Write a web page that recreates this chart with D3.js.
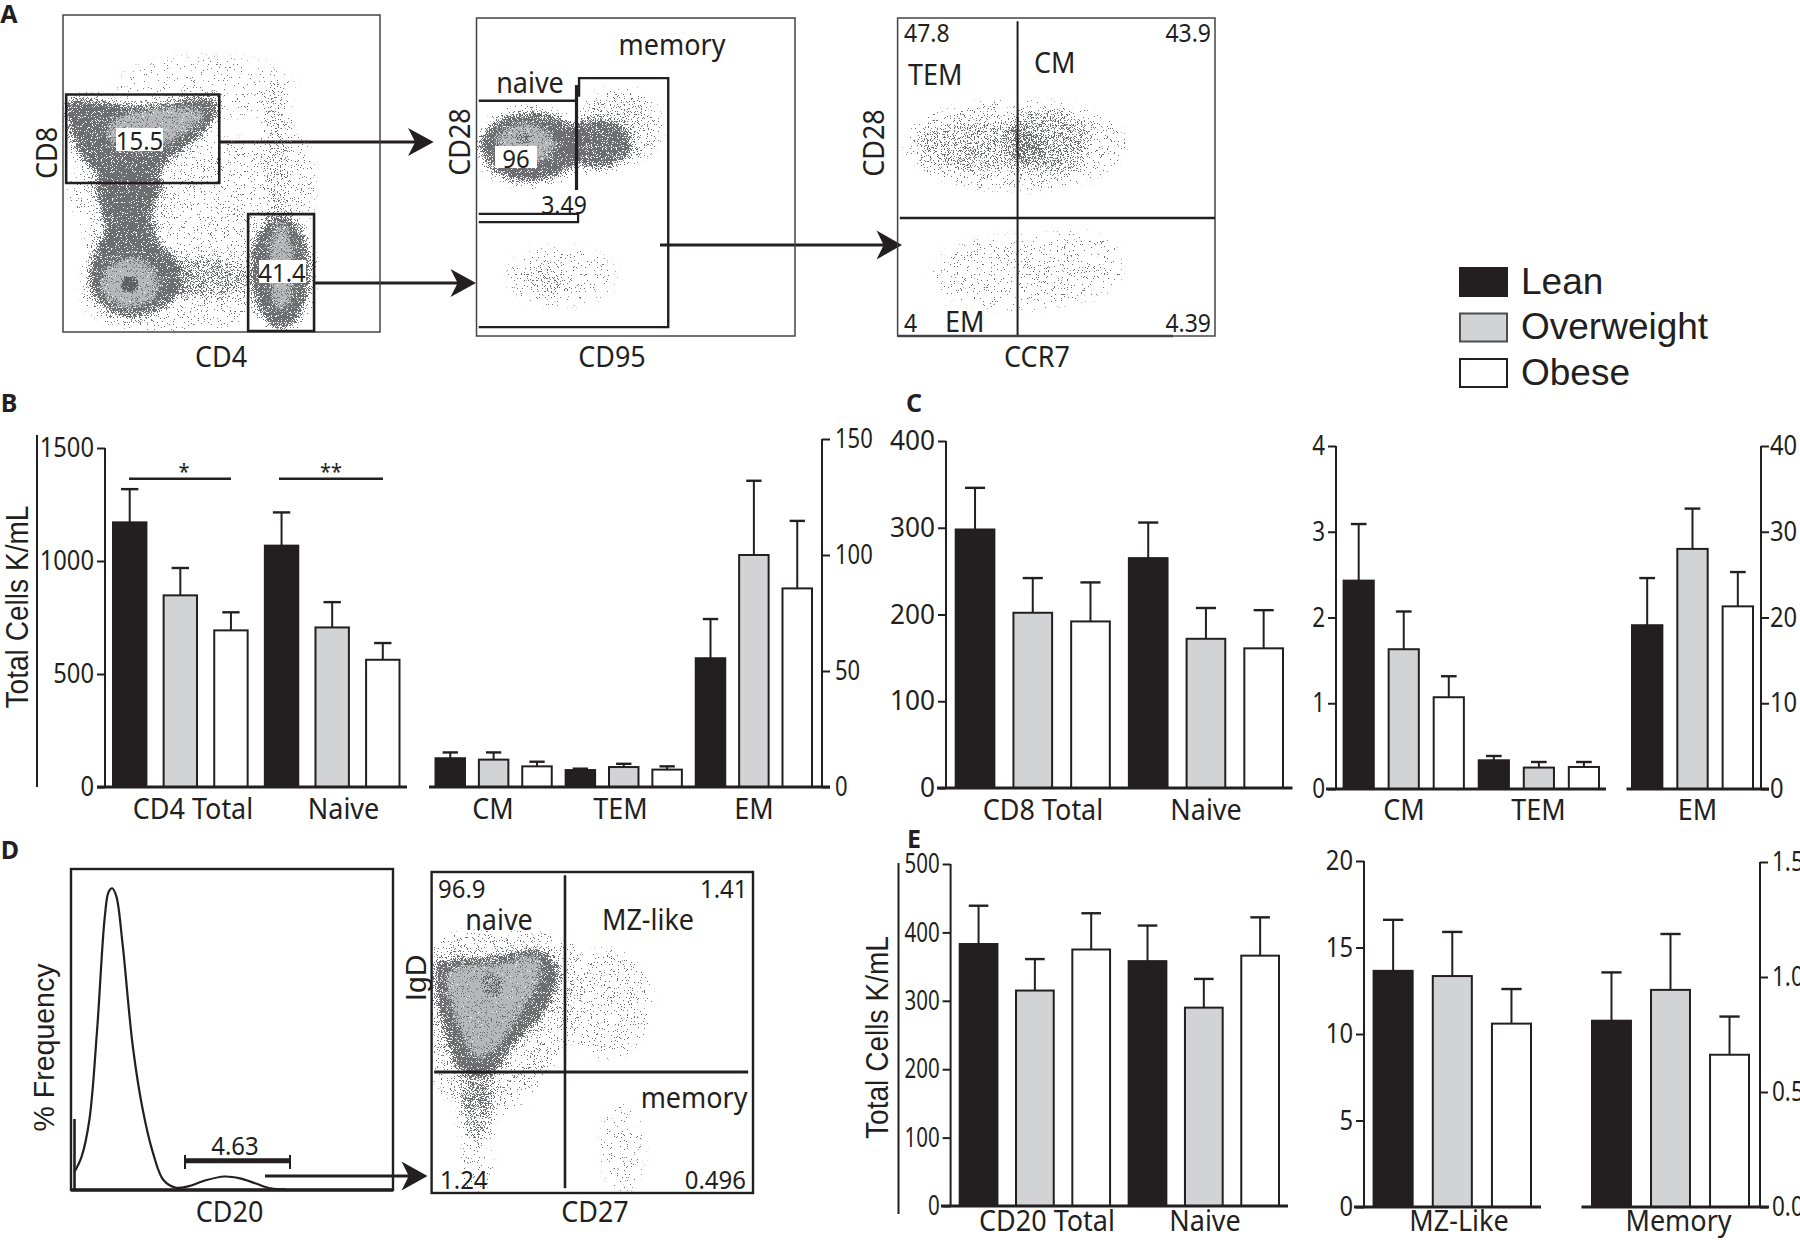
<!DOCTYPE html>
<html><head><meta charset="utf-8">
<script src="https://cdn.jsdelivr.net/npm/d3@7/dist/d3.min.js"></script>
<style>html,body{margin:0;padding:0;background:#fff;overflow:hidden}svg{display:block}</style>
</head><body><svg id="fig" width="1800" height="1240"></svg>
<script>
// ---------- bar chart data ----------
const seriesNames=["Lean","Overweight","Obese"];
const seriesFill=["#231f20","#d1d3d4","#ffffff"];
const b1Cats=["CD4 Total","Naive"];
const b1Means=[[1171,848,693],[1068,706,563]];
const b1Upper=[[1318,969,773],[1215,818,637]];
const b2Cats=["CM","TEM","EM"];
const b2Means=[[12.4,11.8,8.9],[7.3,8.6,7.5],[55.5,100,85.6]];
const b2Upper=[[14.9,14.9,10.9],[7.9,10,8.9],[72.4,132,114.7]];
const c1Cats=["CD8 Total","Naive"];
const c1Means=[[298,202,192],[265,172,161]];
const c1Upper=[[346,242,237],[306,207.5,205]];
const c2Cats=["CM","TEM"];
const c2Means=[[2.43,1.63,1.07],[0.335,0.25,0.257]];
const c2Upper=[[3.09,2.07,1.315],[0.385,0.315,0.315]];
const c3Cats=["EM"];
const c3Means=[[19.1,28,21.3]];
const c3Upper=[[24.6,32.7,25.3]];
const e1Cats=["CD20 Total","Naive"];
const e1Means=[[383,315,375],[358,290,366]];
const e1Upper=[[439,361,428],[410,332,422]];
const e2Cats=["MZ-Like"];
const e2Means=[[13.65,13.35,10.6]];
const e2Upper=[[16.6,15.9,12.6]];
const e3Cats=["Memory"];
const e3Means=[[0.81,0.944,0.662]];
const e3Upper=[[1.02,1.187,0.828]];
const ticks1500=[0,500,1000,1500], ticks150=[0,50,100,150], ticks400=[0,100,200,300,400],
      ticks4=[0,1,2,3,4], ticks40=[0,10,20,30,40], ticks500=[0,100,200,300,400,500],
      ticks20=[0,5,10,15,20], ticks1p5=[0,0.5,1,1.5];
// ---------- histogram (CD20, % frequency, axis units 0-100) ----------
const histX=[1.1,3.3,5.7,8.1,10.5,11.7,12.8,14.1,16,19.2,22.3,25.5,28.7,32.6,36.6,41.4,47.7,52.5,57.2,62,66.7];
const histY=[5.7,10.4,21.8,49.8,85.2,92.9,94,91.4,76.8,44.7,24.9,11.4,3.1,0.7,1.2,2.9,4.2,3.6,2.1,0.5,0.2];
// ---------- cytometry populations, read as outlines in axis units (0-100) ----------
// polygons: list of [x,y]; ellipses: [cx,cy,rx,ry,density]
const a1Sparse=[[[3,47],[45,60],[60,60],[75,60],[78,40],[62,8],[30,1],[8,8],[8,30]]];
const a1SparseEll=[[67.8,52,4,20,.16],[45,77,28,10,.04],[67,70,3,9,.2]];
const a1Dense=[
 [[1.3,72.7],[25.1,71.6],[47.7,73.7],[48.5,69],[44.4,62.7],[34.8,55.3],[28.3,49],[12.2,49],[4.2,57.4],[1.8,64.8]],
 [[10.6,48],[31.6,48],[28.3,37.4],[30,29],[36,22],[36,12],[28,6],[18,5],[9,12],[9,23],[13,33]]];
const a1DenseEll=[[68.6,19,9.5,18,.85],[44,17,15,6.5,.42]];
const a1Light=[[[16,67],[38,71],[45,69],[36,61],[24,57],[14,61]]];
const a1LightEll=[[21.1,15.4,9.5,8,.85],[68.9,20.6,4,14,.9]];
const a1CoreEll=[[21,15,2.6,2.6,.9]];
const a2SparseEll=[[21.8,17.6,7,5,.2],[26.6,18.7,17,9,.06],[45,66,12,11,.22]];
const a2DenseEll=[[17,59.5,16,11,.85],[38,60.6,11,8,.78]];
const a2LightEll=[[15.4,60.6,9,6.4,.85]];
const a2CoreEll=[[15,62,2.6,2,.5]];
const a3SparseEll=[[27,60,20,8,.26],[47,61,13,10,.3],[37,60,34,13,.14],[37.6,19.7,26,11,.08],[55,22,16,11,.05]];
const d2Sparse=[[[1,76],[32,80],[44,76],[40,45],[22,26],[8,28],[1,40]]];
const d2SparseEll=[[14.1,28,5,12,.42],[14,9,4,8,.1],[54.6,59,13,16,.13],[59.4,14,6,13,.09]];
const d2Dense=[[[1.4,71.5],[18.1,73.6],[34,75.7],[39.5,69.5],[35.6,57],[24.4,44.5],[18,36.2],[8.6,38.3],[3.8,50.8],[1.4,63.2]]];
const d2Light=[[[5,69],[22,72],[33,74],[34,68],[28,56],[19,44],[14,42],[7,55]]];
const d2CoreEll=[[18.9,64.8,3.6,3.6,.45]];

// ---------- helpers ----------
const svg=d3.select("#fig");
const INK="#231f20", DOT="#6d6e71", LIGHT="#b6b7b9", CORE="#5f6064";
const SANS="'Noto Sans',sans-serif", ARIAL="'Liberation Sans',Arial,sans-serif";
const defs=svg.append("defs");
function speckle(id,color,blur,freq,seed){
  const f=defs.append("filter").attr("id",id).attr("x",-60).attr("y",-60).attr("width",1900).attr("height",1360)
    .attr("filterUnits","userSpaceOnUse").attr("color-interpolation-filters","sRGB");
  f.append("feGaussianBlur").attr("in","SourceAlpha").attr("stdDeviation",blur).attr("result","b");
  f.append("feTurbulence").attr("type","fractalNoise").attr("baseFrequency",freq).attr("numOctaves",1).attr("seed",seed).attr("result","t");
  f.append("feColorMatrix").attr("in","t").attr("type","matrix").attr("values","0 0 0 0 0 0 0 0 0 0 0 0 0 0 0 2.4 0 0 0 -0.7").attr("result","n");
  f.append("feComposite").attr("in","b").attr("in2","n").attr("operator","arithmetic")
    .attr("k1",0).attr("k2",1).attr("k3",1).attr("k4",-1).attr("result","c");
  const ct=f.append("feComponentTransfer").attr("in","c").attr("result","m");
  ct.append("feFuncA").attr("type","linear").attr("slope",30).attr("intercept",0);
  f.append("feFlood").attr("flood-color",color).attr("result","col");
  f.append("feComposite").attr("in","col").attr("in2","m").attr("operator","in");
}
speckle("fSparse",DOT,5,1.3,4);
speckle("fDense",DOT,4,1.2,7);
speckle("fLight",LIGHT,4,1.2,11);
speckle("fCore",CORE,1.5,1.2,15);

function txt(g,x,y,s,o={}){
  const sans=!o.font&&!o.weight;
  const t=g.append("text").attr("x",x).attr("y",y).text(s)
    .attr("text-anchor",o.anchor||"middle").attr("dominant-baseline","central")
    .attr("font-family",o.font||SANS).attr("font-size",(o.size||26)*(sans?1.08:1)).attr("fill",o.fill||INK)
    .attr("font-weight",o.weight||400);
  if(sans){t.attr("textLength",t.node().getComputedTextLength()*.925).attr("lengthAdjust","spacingAndGlyphs");}
  if(o.len){t.attr("textLength",o.len).attr("lengthAdjust","spacingAndGlyphs");}
  if(o.rotate)t.attr("transform",`rotate(${o.rotate} ${x} ${y})`);
  return t;
}
function seg(g,x1,y1,x2,y2,w=2,c=INK){
  return g.append("line").attr("x1",x1).attr("y1",y1).attr("x2",x2).attr("y2",y2)
    .attr("stroke",c).attr("stroke-width",w);
}
function arrow(g,x0,x1,y,hs,hh){
  seg(g,x0,y,x1-6,y,3);
  g.append("path").attr("fill",INK)
   .attr("d",d3.line()([[x1,y],[hs,y-hh],[hs+(x1-hs)*.28,y],[hs,y+hh]])+"Z");
}
let plotId=0;
function plot(box){
  const g=svg.append("g");
  const x=d3.scaleLinear().domain([0,100]).range([box.x0,box.x1]);
  const y=d3.scaleLinear().domain([0,100]).range([box.y1,box.y0]);
  const id="clip"+(plotId++);
  defs.append("clipPath").attr("id",id).append("rect")
    .attr("x",box.x0).attr("y",box.y0).attr("width",box.x1-box.x0).attr("height",box.y1-box.y0);
  const cl=g.append("g").attr("clip-path",`url(#${id})`);
  const closed=d3.line().x(d=>x(d[0])).y(d=>y(d[1])).curve(d3.curveCatmullRomClosed);
  function cloud(filter,polys,ells,density=.85){
    const l=cl.append("g").attr("filter",`url(#${filter})`);
    (polys||[]).forEach(p=>l.append("path").attr("d",closed(p)).attr("fill","#000").attr("fill-opacity",density));
    (ells||[]).forEach(e=>l.append("ellipse").attr("cx",x(e[0])).attr("cy",y(e[1]))
      .attr("rx",x(e[2])-x(0)).attr("ry",y(0)-y(e[3])).attr("fill","#000").attr("fill-opacity",e[4]));
  }
  function frame(w,c){
    g.append("rect").attr("x",box.x0).attr("y",box.y0).attr("width",box.x1-box.x0).attr("height",box.y1-box.y0)
      .attr("fill","none").attr("stroke",c).attr("stroke-width",w);
  }
  const poly=(pts,w,closedPath)=>g.append("path").attr("d",d3.line().x(d=>x(d[0])).y(d=>y(d[1]))(pts)+(closedPath?"Z":""))
      .attr("fill","none").attr("stroke",INK).attr("stroke-width",w);
  return {g,x,y,cloud,frame,poly};
}
function whiteBox(g,x0,y0,x1,y1){g.append("rect").attr("x",x0).attr("y",y0).attr("width",x1-x0).attr("height",y1-y0).attr("fill","#fff");}

// ---------- bar panels ----------
function barPanel(p){
  const g=svg.append("g");
  const y=d3.scaleLinear().domain([0,p.max]).range([p.y0,p.yTop]);
  const keys=p.cats.flatMap((c,i)=>seriesNames.map((s,j)=>i+"-"+j));
  const x=d3.scaleBand().domain(keys).range([p.bar0,p.bar1]).paddingInner(p.pad).paddingOuter(0);
  const rows=p.means.flatMap((r,i)=>r.map((v,j)=>({k:i+"-"+j,v,u:p.upper[i][j],j})));
  const bw=x.bandwidth();
  const cap=bw*.52;
  g.selectAll("line.err").data(rows).join("line").attr("class","err")
    .attr("x1",d=>x(d.k)+bw/2).attr("x2",d=>x(d.k)+bw/2).attr("y1",d=>y(d.v)).attr("y2",d=>y(d.u))
    .attr("stroke",INK).attr("stroke-width",2);
  g.selectAll("line.cap").data(rows).join("line").attr("class","cap")
    .attr("x1",d=>x(d.k)+bw/2-cap/2).attr("x2",d=>x(d.k)+bw/2+cap/2).attr("y1",d=>y(d.u)).attr("y2",d=>y(d.u))
    .attr("stroke",INK).attr("stroke-width",2.4);
  g.selectAll("rect").data(rows).join("rect")
    .attr("x",d=>x(d.k)).attr("width",bw).attr("y",d=>y(d.v)).attr("height",d=>p.y0-y(d.v))
    .attr("fill",d=>seriesFill[d.j]).attr("stroke",INK).attr("stroke-width",2);
  const ax=(p.side==="right"?d3.axisRight(y):d3.axisLeft(y)).tickValues(p.ticks).tickSizeOuter(0).tickSize(8).tickPadding(p.tp||3)
    .tickFormat(d3.format(p.fmt||"d"));
  const a=g.append("g").attr("transform",`translate(${p.axisX},0)`).call(ax);
  a.select(".domain").attr("stroke",INK).attr("stroke-width",2).attr("d",`M0,${p.yTop}V${p.y0}`);
  a.selectAll(".tick line").attr("stroke",INK).attr("stroke-width",2);
  a.selectAll(".tick text").attr("font-family",SANS).attr("font-size",27).attr("fill",INK)
    .each(function(){this.setAttribute("textLength",this.getComputedTextLength()*(p.squeeze||1)*.925);this.setAttribute("lengthAdjust","spacingAndGlyphs");});
  seg(g,p.base0,p.y0,p.base1,p.y0,3);
  p.cats.forEach((c,i)=>txt(g,p.labelX[i],p.labelY,c,{size:27}));
}
barPanel({cats:b1Cats,means:b1Means,upper:b1Upper,max:1500,ticks:ticks1500,y0:787,yTop:448,axisX:105,bar0:113,bar1:399.5,pad:.34,base0:97,base1:407,labelX:[193,343.5],labelY:808,squeeze:.95});
barPanel({cats:b2Cats,means:b2Means,upper:b2Upper,max:150,ticks:ticks150,y0:787,yTop:439,axisX:822,side:"right",tp:5,bar0:435.5,bar1:812,pad:.32,base0:429,base1:830,labelX:[493,620.6,754],labelY:808,squeeze:.88});
barPanel({cats:c1Cats,means:c1Means,upper:c1Upper,max:400,ticks:ticks400,y0:788,yTop:441,axisX:946,bar0:955.7,bar1:1283,pad:.33,base0:937,base1:1292.5,labelX:[1043,1206],labelY:809,squeeze:1.05});
barPanel({cats:c2Cats,means:c2Means,upper:c2Upper,max:4,ticks:ticks4,y0:789,yTop:446,axisX:1336,bar0:1343.6,bar1:1599,pad:.33,base0:1326,base1:1606,labelX:[1404,1538.5],labelY:809,squeeze:.9});
barPanel({cats:c3Cats,means:c3Means,upper:c3Upper,max:40,ticks:ticks40,y0:789,yTop:446,axisX:1761,side:"right",tp:1,bar0:1632,bar1:1753,pad:.33,base0:1626.5,base1:1769,labelX:[1697.5],labelY:809,squeeze:.95});
barPanel({cats:e1Cats,means:e1Means,upper:e1Upper,max:500,ticks:ticks500,y0:1206,yTop:864,axisX:950.6,bar0:959.7,bar1:1279,pad:.33,base0:941,base1:1288,labelX:[1047,1205],labelY:1220,squeeze:.82});
barPanel({cats:e2Cats,means:e2Means,upper:e2Upper,max:20,ticks:ticks20,y0:1207,yTop:861,axisX:1364,bar0:1373.6,bar1:1531,pad:.34,base0:1354,base1:1541,labelX:[1459],labelY:1220,squeeze:.95});
barPanel({cats:e3Cats,means:e3Means,upper:e3Upper,max:1.5,ticks:ticks1p5,fmt:".1f",y0:1207,yTop:862,axisX:1760,side:"right",tp:4,bar0:1592,bar1:1749,pad:.34,base0:1581.5,base1:1769,labelX:[1678.5],labelY:1220,squeeze:.9});

const ann=svg.append("g");
seg(ann,37,435,37,787,2);
seg(ann,898.5,863,898.5,1214,2);
txt(ann,17,607,"Total Cells K/mL",{font:ARIAL,size:31,rotate:-90,len:203});
txt(ann,877,1037.5,"Total Cells K/mL",{font:ARIAL,size:31,rotate:-90,len:203});
seg(ann,129,478.7,231,478.7,2.4); txt(ann,184,470,"*",{size:20});
seg(ann,279,478.7,383,478.7,2.4); txt(ann,331,470,"**",{size:20});

// ---------- panel A ----------
const p1=plot({x0:63,x1:380,y0:15,y1:332});
p1.cloud("fSparse",a1Sparse,a1SparseEll,.11);
p1.cloud("fDense",a1Dense,a1DenseEll);
p1.cloud("fLight",a1Light,a1LightEll);
p1.cloud("fCore",null,a1CoreEll);
p1.frame(1.5,"#444");
p1.poly([[1,74.9],[49.3,74.9],[49.3,47],[1,47]],2.6,true);
p1.poly([[58.4,37.2],[79.2,37.2],[79.2,.3],[58.4,.3]],2.6,true);
whiteBox(p1.g,116,128,163,151); whiteBox(p1.g,259,260,306,283);
txt(p1.g,139.5,140,"15.5",{size:24}); txt(p1.g,282,272,"41.4",{size:24});

const p2=plot({x0:476.5,x1:795,y0:18,y1:336});
p2.cloud("fSparse",null,a2SparseEll);
p2.cloud("fDense",null,a2DenseEll);
p2.cloud("fLight",null,a2LightEll);
p2.cloud("fCore",null,a2CoreEll);
p2.frame(1.5,"#444");
p2.poly([[.7,74],[31.4,74]],2.4);
p2.poly([[31.4,78.9],[31.4,45.9]],3.2);
p2.poly([[.7,38.4],[31.9,38.4],[31.9,35.8],[.7,35.8]],2.2);
p2.poly([[32.2,75.2],[32.2,81.1],[60.2,81.1],[60.2,2.8],[.7,2.8]],2.4);
whiteBox(p2.g,495,146,537,168);
txt(p2.g,516,158,"96",{size:24});
txt(p2.g,564,204,"3.49",{size:23});
txt(p2.g,530,82,"naive",{size:27});
txt(p2.g,672,44,"memory",{size:27});

const p3=plot({x0:897.6,x1:1215,y0:18,y1:336});
p3.cloud("fSparse",null,a3SparseEll);
p3.frame(1.5,"#444");
p3.poly([[37.8,99],[37.8,0]],2);
p3.poly([[.7,37.1],[100,37.1]],2.6);
seg(p3.g,897.6,336,1173,336,2.4,"#444");
txt(p3.g,904,32,"47.8",{size:23,anchor:"start"});
txt(p3.g,1211,32,"43.9",{size:23,anchor:"end"});
txt(p3.g,908,74,"TEM",{size:27,anchor:"start"});
txt(p3.g,1034,62,"CM",{size:27,anchor:"start"});
txt(p3.g,904,322,"4",{size:23,anchor:"start"});
txt(p3.g,945,321,"EM",{size:27,anchor:"start"});
txt(p3.g,1211,322,"4.39",{size:23,anchor:"end"});

arrow(ann,219,433.7,142,408,14);
arrow(ann,314,476,283,450.5,14);
arrow(ann,660,902,245,876.5,14.5);
txt(ann,46,153,"CD8",{size:27,rotate:-90});
txt(ann,221,356,"CD4",{size:27});
txt(ann,459,142,"CD28",{size:27,rotate:-90});
txt(ann,612,356,"CD95",{size:27});
txt(ann,873,143,"CD28",{size:27,rotate:-90});
txt(ann,1037,356,"CCR7",{size:27});

// panel letters
[["A",9,13],["B",9,402],["C",914,402],["D",10,849],["E",914,838]].forEach(d=>txt(ann,d[1],d[2],d[0],{size:25,weight:700}));

// ---------- legend ----------
const lg=svg.append("g");
const legendTop=d3.scalePoint().domain(seriesNames).range([268,359]);
seriesNames.forEach((s,i)=>{
  lg.append("rect").attr("x",1460).attr("y",legendTop(s)).attr("width",47).attr("height",28)
    .attr("fill",seriesFill[i]).attr("stroke",i==1?"#4d4d4f":INK).attr("stroke-width",2);
  txt(lg,1521,legendTop(s)+13,s,{font:ARIAL,size:37,anchor:"start"});
});

// ---------- panel D ----------
const hBox={x0:71,x1:393,y0:869,y1:1190};
const h=plot(hBox);
h.frame(2.4,INK);
h.g.append("path").datum(d3.zip(histX,histY))
  .attr("d",d3.line().x(d=>h.x(d[0])).y(d=>h.y(d[1])).curve(d3.curveCatmullRom))
  .attr("fill","none").attr("stroke",INK).attr("stroke-width",2.2);
seg(h.g,74.5,1119,74.5,1190,2.6);
seg(h.g,71,1190,393,1190,3.5);
seg(h.g,185,1160.7,290,1160.7,5);
seg(h.g,185,1155,185,1169,2); seg(h.g,290,1155,290,1169,2);
txt(h.g,235,1145,"4.63",{size:24});
txt(h.g,43,1047.5,"% Frequency",{font:ARIAL,size:30,rotate:-90,len:168});
txt(h.g,229.6,1211,"CD20",{size:27});

const d2=plot({x0:431.6,x1:753,y0:872,y1:1193});
d2.cloud("fSparse",d2Sparse,d2SparseEll,.18);
d2.cloud("fDense",d2Dense,null);
d2.cloud("fLight",d2Light,null);
d2.cloud("fCore",null,d2CoreEll);
d2.frame(2.4,INK);
d2.poly([[41.5,99],[41.5,1.5]],2.6);
d2.poly([[.8,37.7],[98.5,37.7]],3);
txt(d2.g,438,888,"96.9",{size:24,anchor:"start"});
txt(d2.g,747.5,888,"1.41",{size:24,anchor:"end"});
txt(d2.g,499,919,"naive",{size:27});
txt(d2.g,648,919,"MZ-like",{size:27});
txt(d2.g,747.5,1097,"memory",{size:27,anchor:"end"});
txt(d2.g,440,1179,"1.24",{size:24,anchor:"start"});
txt(d2.g,746,1179,"0.496",{size:24,anchor:"end"});
txt(d2.g,415,978,"IgD",{font:ARIAL,size:30,rotate:-90});
txt(d2.g,595,1211,"CD27",{size:27});
arrow(ann,265,427.5,1176,401.5,14.5);
</script></body></html>
